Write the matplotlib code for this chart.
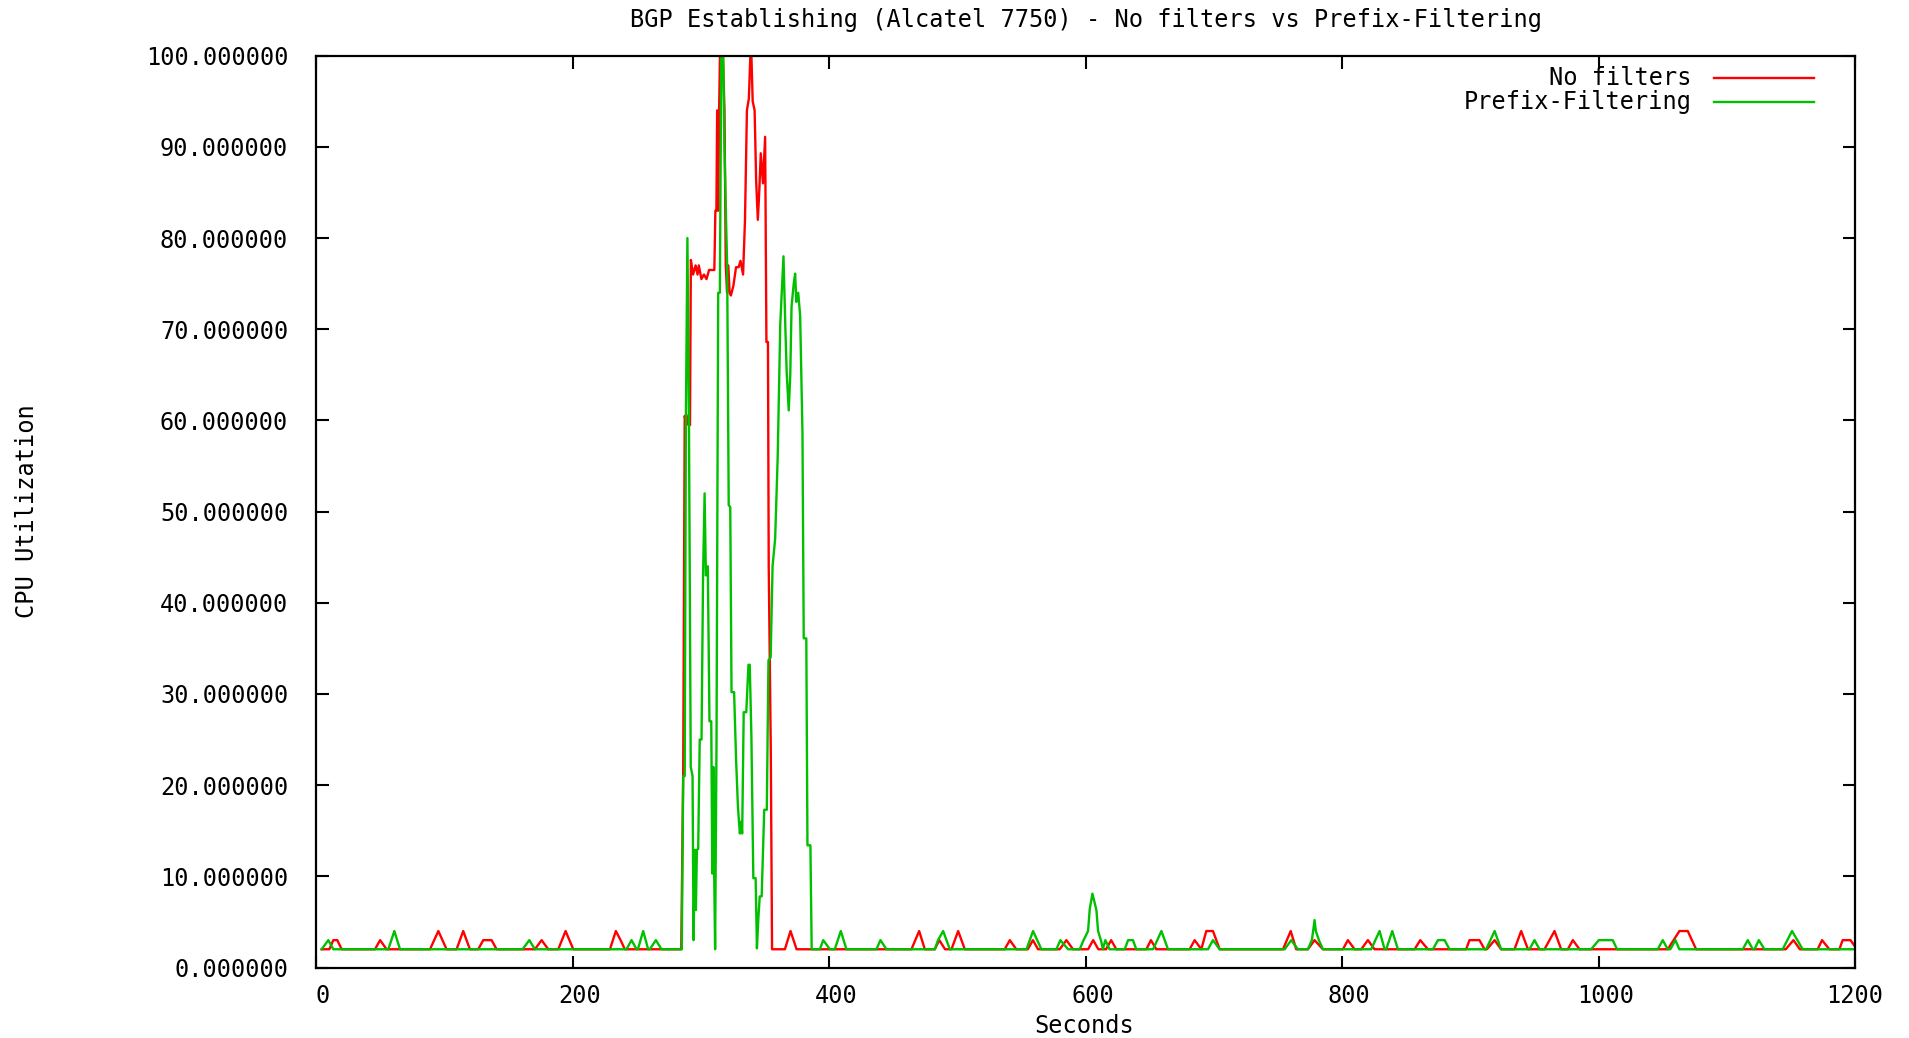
import numpy as np
import matplotlib.pyplot as plt
from matplotlib.transforms import ScaledTranslation

# (seconds, cpu %)
nofilt = [
    (4.4, 2), (10.4, 2), (13.5, 3), (16.6, 3), (20.0, 2),
    (46.0, 2), (50.0, 3), (55.0, 2),
    (88.9, 2), (95.4, 4), (101.8, 2),
    (109.6, 2), (114.8, 4), (120.0, 2),
    (126.5, 2), (130.4, 3), (136.9, 3), (140.8, 2),
    (170.7, 2), (175.9, 3), (181.1, 2),
    (188.9, 2), (194.6, 4), (200.6, 2),
    (229.2, 2), (233.8, 4), (237.5, 3), (240.8, 2),
    (284.8, 2), (286.3, 21), (287.5, 60.5), (289.0, 59.5), (290.5, 60.6), (291.6, 59.5),
    (292.3, 77.6), (294.0, 76), (296.0, 77), (297.5, 76), (298.5, 77), (300.5, 75.5),
    (302.5, 76), (304.5, 75.5), (306.5, 76.5), (310.6, 76.5), (311.4, 83), (312.2, 83),
    (312.8, 94), (313.6, 83), (314.3, 94), (315.0, 100), (317.3, 100), (318.5, 94),
    (319.5, 77), (320.5, 74), (321.5, 77), (322.5, 74), (323.5, 73.7), (325.5, 74.8),
    (327.5, 76.8), (329.5, 76.8), (331.0, 77.5), (333.0, 76), (334.5, 82), (336.0, 94),
    (337.5, 95.3), (338.7, 100), (339.5, 100), (340.5, 95), (342.0, 94), (343.2, 86.3),
    (344.5, 82), (345.6, 85), (346.8, 89.3), (348.5, 86), (350.2, 91.1), (351.2, 68.6),
    (352.4, 68.6), (353.0, 44), (353.8, 34), (354.6, 24), (355.6, 2),
    (365.6, 2), (370.0, 4), (374.7, 2),
    (464.3, 2), (470.3, 4), (474.7, 2),
    (482.5, 2), (486.0, 3), (490.5, 2),
    (495.5, 2), (500.7, 4), (505.9, 2),
    (537.0, 2), (541.0, 3), (546.0, 2),
    (555.0, 2), (559.0, 3), (563.0, 2),
    (579.9, 2), (585.1, 3), (590.3, 2),
    (602.0, 2), (606.0, 3), (610.0, 2),
    (616.0, 2), (620.0, 3), (624.0, 2),
    (647.5, 2), (651.0, 3), (655.2, 2),
    (681.2, 2), (685.1, 3), (690.3, 2), (694.2, 4), (699.4, 4), (704.6, 2),
    (754.0, 2), (757.0, 3), (760.0, 4), (764.3, 2),
    (773.4, 2), (778.6, 3), (785.1, 2),
    (800.7, 2), (804.6, 3), (809.8, 2),
    (815.0, 2), (820.2, 3), (825.4, 2),
    (856.6, 2), (861.0, 3), (867.0, 2),
    (896.8, 2), (899.4, 3), (907.2, 3), (911.1, 2),
    (913.0, 2), (919.0, 3), (924.0, 2),
    (934.5, 2), (939.7, 4), (945.0, 2),
    (957.9, 2), (965.7, 4), (970.9, 2),
    (976.1, 2), (980.0, 3), (985.2, 2),
    (1054.0, 2), (1063.1, 4), (1069.6, 4), (1076.1, 2),
    (1146.0, 2), (1152.0, 3), (1157.0, 2),
    (1170.9, 2), (1174.3, 3), (1180.0, 2),
    (1187.8, 2), (1190.4, 3), (1196.5, 3), (1201.5, 2),
]

prefix = [
    (4.4, 2), (9.6, 3), (13.5, 2),
    (56.4, 2), (61.1, 4), (65.5, 2),
    (161.1, 2), (166.3, 3), (170.7, 2),
    (242.1, 2), (246.0, 3), (250.0, 2),
    (251.0, 2), (255.1, 4), (259.0, 2),
    (260.3, 2), (265.0, 3), (269.4, 2),
    (285.2, 2), (286.3, 21), (287.5, 21), (288.4, 60), (289.6, 80), (290.8, 60),
    (292.2, 22), (293.6, 21), (294.4, 3), (295.4, 12.9), (296.2, 6.3), (297.0, 12.9),
    (298.0, 13), (299.2, 25), (300.6, 25), (301.8, 43), (303.0, 52), (304.0, 43),
    (305.5, 44), (306.8, 27), (308.2, 27), (309.0, 10.3), (309.8, 22), (310.5, 10),
    (311.2, 2), (312.3, 25), (313.6, 74), (314.9, 74), (316.0, 100), (317.5, 100),
    (318.5, 90), (319.5, 83.4), (320.6, 76.8), (321.8, 50.7), (323.0, 50.5), (324.0, 30.2),
    (326.0, 30.2), (327.5, 23), (329.0, 17.6), (330.5, 14.7), (331.5, 16), (332.3, 14.7),
    (333.5, 28), (335.5, 28), (337.2, 33.2), (338.2, 33.2), (339.5, 25.3), (341.0, 9.8),
    (342.8, 9.8), (343.8, 2.1), (345.0, 5.6), (346.0, 7.8), (347.5, 7.8), (349.5, 17.3),
    (351.5, 17.3), (352.8, 33.7), (354.5, 34), (356.0, 44), (358.0, 47), (360.0, 56),
    (362.0, 70.6), (364.5, 78), (366.0, 70), (367.0, 65.3), (368.6, 61.1), (369.8, 65),
    (370.8, 72.5), (372.5, 75), (373.6, 76.1), (374.5, 73), (376.0, 74), (377.5, 71.5),
    (379.3, 58.7), (380.3, 36.1), (382.3, 36.1), (383.2, 13.4), (385.5, 13.4), (386.5, 2),
    (392.9, 2), (395.5, 3), (400.7, 2),
    (404.5, 2), (409.2, 4), (413.6, 2),
    (437.0, 2), (440.1, 3), (444.8, 2),
    (482.5, 2), (485.0, 3), (489.0, 4), (494.2, 2),
    (554.0, 2), (559.1, 4), (565.6, 2),
    (577.3, 2), (580.4, 3), (586.4, 2),
    (595.5, 2), (598.5, 3), (602.0, 4), (603.3, 6.4), (605.4, 8.1), (608.5, 6.3),
    (609.8, 4), (612.4, 2.8), (613.5, 2), (615.5, 3), (618.8, 2),
    (630.6, 2), (633.2, 3), (637.0, 3), (639.6, 2),
    (652.7, 2), (659.2, 4), (664.3, 2),
    (695.5, 2), (699.4, 3), (704.6, 2),
    (755.3, 2), (760.4, 3), (765.6, 2),
    (773.4, 2), (776.5, 3), (777.5, 4), (778.6, 5.2), (779.6, 4), (782.0, 3), (785.1, 2),
    (822.8, 2), (826.0, 3), (829.3, 4), (833.2, 2),
    (834.5, 2), (839.2, 4), (843.6, 2),
    (870.9, 2), (874.8, 3), (880.0, 3), (883.8, 2),
    (912.4, 2), (919.0, 4), (924.1, 2),
    (946.2, 2), (950.1, 3), (954.0, 2),
    (994.3, 2), (1000.2, 3), (1011.1, 3), (1014.5, 2),
    (1046.2, 2), (1050.1, 3), (1054.0, 2),
    (1056.0, 2), (1060.0, 3), (1063.0, 2),
    (1112.5, 2), (1116.4, 3), (1120.3, 2),
    (1121.6, 2), (1125.0, 3), (1129.4, 2),
    (1143.6, 2), (1150.9, 4), (1159.2, 2),
    (1201.0, 2),
]

labels = ['No filters', 'Prefix-Filtering']
colors = ['#ff0000', '#00c000']
xticks = [0, 200, 400, 600, 800, 1000, 1200]
yticks = [0, 10, 20, 30, 40, 50, 60, 70, 80, 90, 100]
title = 'BGP Establishing (Alcatel 7750) - No filters vs Prefix-Filtering'

plt.rcParams['font.family'] = ['DejaVu Sans Mono']
fs = 17
lw = 1.7

W, H = 1909, 1038
fig = plt.figure(figsize=(W / 100, H / 100), dpi=100)
ax = fig.add_axes([316 / W, 1 - 967.5 / H, 1539 / W, 911.8 / H])

for pts, c in zip([nofilt, prefix], colors):
    t, v = np.array(pts).T
    ax.plot(t, v, color=c, lw=lw)

ax.set_xlim(0, 1200)
ax.set_ylim(0, 100)
ax.set_xticks(xticks)
ax.set_xticklabels([str(x) for x in xticks])
ax.set_yticks(yticks)
ax.set_yticklabels([f'{y:.6f}' for y in yticks])
ax.tick_params(direction='in', length=9, width=1.5, top=True, right=True,
               labelsize=fs, colors='black')
ax.tick_params(axis='y', pad=20)
ax.tick_params(axis='x', pad=12)
for s in ax.spines.values():
    s.set_linewidth(1.6)

# gnuplot puts the x labels a few pixels right of the tick
shift = ScaledTranslation(7 / 100, 0, fig.dpi_scale_trans)
for lab in ax.get_xticklabels()[:-1]:
    lab.set_transform(lab.get_transform() + shift)

# legend, gnuplot style: text on the left, line sample on the right
for i, (lab, c) in enumerate(zip(labels, colors)):
    y = 0.9756 - i * 0.0263
    ax.text(0.894, y, lab, transform=ax.transAxes, ha='right', va='center', fontsize=fs)
    ax.plot([0.9085, 0.9734], [y, y], transform=ax.transAxes, color=c, lw=lw)

fig.text(1085.5 / W, 1 - 19.5 / H, title, ha='center', va='center', fontsize=fs)
fig.text(1084 / W, 1 - 1026 / H, 'Seconds', ha='center', va='center', fontsize=fs)
fig.text(27 / W, 1 - 511 / H, 'CPU Utilization', ha='center', va='center',
         rotation=90, fontsize=fs)

plt.savefig('out.png', dpi=100)
